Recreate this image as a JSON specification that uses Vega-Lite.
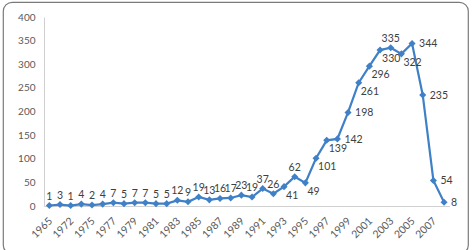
{
  "$schema": "https://vega.github.io/schema/vega-lite/v6.json",
  "width": 465,
  "height": 252,
  "autosize": {"type": "none"},
  "padding": {"left": 3, "top": 2, "right": 5, "bottom": 0},
  "background": "white",
  "config": {
    "view": {"stroke": "#7a7a7a", "strokeWidth": 1.2, "cornerRadius": 9},
    "font": "Lato",
    "axis": {"labelFont": "Lato", "labelFontSize": 10, "labelColor": "#595959", "domainColor": "#d0d0d0", "grid": false, "ticks": false, "title": null}
  },
  "data": {
    "values": [
      {"year": "1965", "count": 1},
      {"year": "1970", "count": 3},
      {"year": "1972", "count": 1},
      {"year": "1974", "count": 4},
      {"year": "1975", "count": 2},
      {"year": "1976", "count": 4},
      {"year": "1977", "count": 7},
      {"year": "1978", "count": 5},
      {"year": "1979", "count": 7},
      {"year": "1980", "count": 7},
      {"year": "1981", "count": 5},
      {"year": "1982", "count": 5},
      {"year": "1983", "count": 12},
      {"year": "1984", "count": 9},
      {"year": "1985", "count": 19},
      {"year": "1986", "count": 13},
      {"year": "1987", "count": 16},
      {"year": "1988", "count": 17},
      {"year": "1989", "count": 23},
      {"year": "1990", "count": 19},
      {"year": "1991", "count": 37},
      {"year": "1992", "count": 26},
      {"year": "1993", "count": 41},
      {"year": "1994", "count": 62},
      {"year": "1995", "count": 49},
      {"year": "1996", "count": 101},
      {"year": "1997", "count": 139},
      {"year": "1998", "count": 142},
      {"year": "1999", "count": 198},
      {"year": "2000", "count": 261},
      {"year": "2001", "count": 296},
      {"year": "2002", "count": 330},
      {"year": "2003", "count": 335},
      {"year": "2004", "count": 322},
      {"year": "2005", "count": 344},
      {"year": "2006", "count": 235},
      {"year": "2007", "count": 54},
      {"year": "2008", "count": 8}
    ]
  },
  "encoding": {
    "x": {
      "field": "year",
      "type": "ordinal",
      "sort": null,
      "scale": {"type": "point", "padding": 0.5, "range": [41, 446.4]},
      "axis": {
        "values": ["1965", "1972", "1975", "1977", "1979", "1981", "1983", "1985", "1987", "1989", "1991", "1993", "1995", "1997", "1999", "2001", "2003", "2005", "2007"],
        "labelAngle": -45,
        "labelAlign": "right",
        "labelBaseline": "middle",
        "labelPadding": 13,
        "labelOffset": 1,
        "labelFontSize": 10.5,
        "offset": -48
      }
    },
    "y": {
      "field": "count",
      "type": "quantitative",
      "scale": {"domain": [0, 400], "range": [204, 15], "nice": false},
      "axis": {"values": [0, 50, 100, 150, 200, 250, 300, 350, 400], "labelPadding": 9, "offset": -41}
    }
  },
  "layer": [
    {
      "mark": {"type": "line", "color": "#3f80c6", "strokeWidth": 2.2},
      "encoding": {}
    },
    {
      "mark": {"type": "point", "shape": "diamond", "filled": true, "color": "#3f80c6", "opacity": 1, "size": 50},
      "encoding": {}
    },
    {
      "transform": [{"filter": {"not": {"field": "year", "oneOf": ["1993", "1995", "1996", "1997", "1998", "1999", "2000", "2001", "2002", "2004", "2005", "2006", "2007", "2008"]}}}],
      "mark": {"type": "text", "font": "Lato", "fontSize": 10.5, "color": "#404040", "align": "center", "baseline": "middle", "dy": -9},
      "encoding": {"text": {"field": "count", "type": "quantitative"}}
    },
    {
      "transform": [{"filter": {"field": "year", "oneOf": ["1998", "1999", "2005", "2006", "2007", "2008"]}}],
      "mark": {"type": "text", "font": "Lato", "fontSize": 10.5, "color": "#404040", "align": "left", "baseline": "middle", "dx": 7, "dy": 1},
      "encoding": {"text": {"field": "count", "type": "quantitative"}}
    },
    {
      "transform": [{"filter": {"field": "year", "oneOf": ["1993", "1995", "1996", "1997", "2000", "2001", "2002", "2004"]}}],
      "mark": {"type": "text", "font": "Lato", "fontSize": 10.5, "color": "#404040", "align": "left", "baseline": "middle", "dx": 2, "dy": 9},
      "encoding": {"text": {"field": "count", "type": "quantitative"}}
    }
  ]
}
